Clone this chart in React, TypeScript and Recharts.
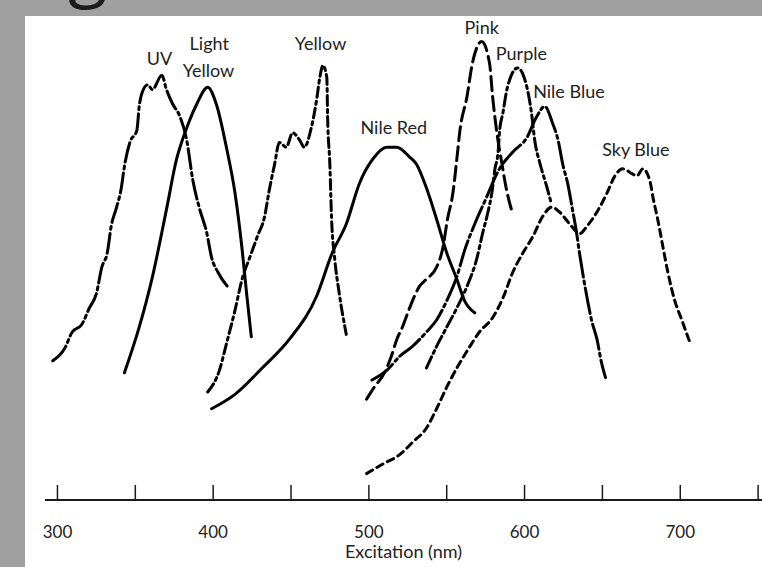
import React from 'react';
import { LineChart, Line, XAxis, YAxis, ReferenceDot } from 'recharts';

// excitation spectra, x in nm, y in relative units (0-100)
const uv = [
  { nm: 297, v: 29 }, { nm: 304.5, v: 31.5 }, { nm: 309.5, v: 35 }, { nm: 315.5, v: 36.5 },
  { nm: 320.5, v: 40 }, { nm: 325, v: 43 }, { nm: 328.5, v: 48.5 }, { nm: 332, v: 51.5 },
  { nm: 334.5, v: 57 }, { nm: 338, v: 61 }, { nm: 341, v: 65 }, { nm: 343, v: 69.5 },
  { nm: 346.5, v: 74.5 }, { nm: 351, v: 77 }, { nm: 352.5, v: 82 }, { nm: 354.5, v: 85 },
  { nm: 358, v: 86.5 }, { nm: 361, v: 85.5 }, { nm: 367, v: 88.5 }, { nm: 370, v: 85.5 },
  { nm: 374, v: 82.5 }, { nm: 378.5, v: 80 }, { nm: 383, v: 75 }, { nm: 387, v: 66.5 },
  { nm: 391, v: 61 }, { nm: 396, v: 55.5 }, { nm: 399, v: 50.5 }, { nm: 403, v: 47.5 },
  { nm: 410.5, v: 44 },
];

const lightYellow = [
  { nm: 343, v: 26.5 }, { nm: 352.5, v: 36 }, { nm: 361, v: 46.5 }, { nm: 370, v: 60.5 },
  { nm: 376.5, v: 71 }, { nm: 383, v: 77.5 }, { nm: 389.5, v: 82.5 }, { nm: 396.5, v: 86 },
  { nm: 402, v: 82.5 }, { nm: 408.5, v: 73.5 }, { nm: 414, v: 64 }, { nm: 418.5, v: 52.5 },
  { nm: 421.5, v: 43 }, { nm: 424.5, v: 34 },
];

const yellow = [
  { nm: 396.5, v: 22.5 }, { nm: 404, v: 27 }, { nm: 408.5, v: 32.5 }, { nm: 414, v: 39.5 },
  { nm: 419, v: 46.5 }, { nm: 423.5, v: 50.5 }, { nm: 428.5, v: 55 }, { nm: 433, v: 59 },
  { nm: 436, v: 64.5 }, { nm: 439.5, v: 70 }, { nm: 442.5, v: 74.5 }, { nm: 447, v: 73.5 },
  { nm: 451, v: 76.5 }, { nm: 455.5, v: 75 }, { nm: 458.5, v: 73.5 }, { nm: 463, v: 77.5 },
  { nm: 466.5, v: 83.5 }, { nm: 468.5, v: 88 }, { nm: 470.5, v: 90.5 }, { nm: 473, v: 88 },
  { nm: 473.5, v: 80 }, { nm: 475, v: 69.5 }, { nm: 476, v: 59 }, { nm: 478, v: 50.5 },
  { nm: 481, v: 43 }, { nm: 485.5, v: 34.5 },
];

const nileRed = [
  { nm: 399, v: 19 }, { nm: 414, v: 22 }, { nm: 431.5, v: 27.5 }, { nm: 449, v: 33.5 },
  { nm: 466.5, v: 42.5 }, { nm: 476.5, v: 51.5 }, { nm: 485.5, v: 57.5 }, { nm: 494, v: 66 },
  { nm: 502.5, v: 71 }, { nm: 511.5, v: 73.5 }, { nm: 518, v: 73.5 }, { nm: 526, v: 71.5 },
  { nm: 530.5, v: 70 }, { nm: 537, v: 65 }, { nm: 543.5, v: 58.5 }, { nm: 550, v: 51.5 },
  { nm: 556.5, v: 46 }, { nm: 561.5, v: 41.5 }, { nm: 568, v: 39 },
];

const pink = [
  { nm: 498.5, v: 21 }, { nm: 503.5, v: 23.5 }, { nm: 510, v: 26.5 }, { nm: 514.5, v: 30 },
  { nm: 518, v: 33.5 }, { nm: 521.5, v: 36 }, { nm: 525, v: 39 }, { nm: 528, v: 41.5 },
  { nm: 532.5, v: 44.5 }, { nm: 537, v: 46 }, { nm: 543.5, v: 48.5 }, { nm: 547.5, v: 52.5 },
  { nm: 550.5, v: 58.5 }, { nm: 554, v: 64 }, { nm: 556.5, v: 71 }, { nm: 558.5, v: 77 },
  { nm: 563, v: 84 }, { nm: 566.5, v: 91 }, { nm: 572.5, v: 95.5 }, { nm: 577.5, v: 91 },
  { nm: 579.5, v: 84 }, { nm: 582, v: 77 }, { nm: 585.5, v: 70 }, { nm: 588.5, v: 64.5 },
  { nm: 592.5, v: 59.5 },
];

const purple = [
  { nm: 537, v: 27.5 }, { nm: 543.5, v: 32 }, { nm: 550, v: 36 }, { nm: 556.5, v: 40 },
  { nm: 563, v: 44.5 }, { nm: 569.5, v: 50.5 }, { nm: 573, v: 55.5 }, { nm: 576.5, v: 60 },
  { nm: 579, v: 64 }, { nm: 581, v: 69 }, { nm: 583, v: 72.5 }, { nm: 584, v: 77 },
  { nm: 586, v: 80.5 }, { nm: 589, v: 86 }, { nm: 595.5, v: 90 }, { nm: 601.5, v: 86 },
  { nm: 604.5, v: 80.5 }, { nm: 606.5, v: 75 }, { nm: 610, v: 70 }, { nm: 614.5, v: 65 },
  { nm: 617, v: 62 },
];

const nileBlue = [
  { nm: 502, v: 25 }, { nm: 511.5, v: 27 }, { nm: 520, v: 30 }, { nm: 528, v: 32 },
  { nm: 537, v: 35 }, { nm: 543.5, v: 37.5 }, { nm: 550, v: 41.5 }, { nm: 556.5, v: 46.5 },
  { nm: 561.5, v: 52 }, { nm: 568, v: 57.5 }, { nm: 575.5, v: 63 }, { nm: 583, v: 68.5 },
  { nm: 592.5, v: 72.5 }, { nm: 601.5, v: 75.5 }, { nm: 608, v: 80 }, { nm: 613, v: 82 },
  { nm: 618, v: 78.5 }, { nm: 621.5, v: 75 }, { nm: 624.5, v: 70 }, { nm: 628, v: 65.5 },
  { nm: 630.5, v: 61 }, { nm: 633, v: 56.5 }, { nm: 635.5, v: 51 }, { nm: 638, v: 46 },
  { nm: 640.5, v: 41.5 }, { nm: 643, v: 37.5 }, { nm: 646.5, v: 33.5 }, { nm: 649.5, v: 28.5 },
  { nm: 652, v: 25.5 },
];

const skyBlue = [
  { nm: 498.5, v: 5.5 }, { nm: 509, v: 7.5 }, { nm: 520, v: 9.5 }, { nm: 528, v: 12 },
  { nm: 537, v: 15 }, { nm: 543.5, v: 19 }, { nm: 550, v: 23.5 }, { nm: 556.5, v: 27.5 },
  { nm: 563, v: 31 }, { nm: 571, v: 35 }, { nm: 579.5, v: 38 }, { nm: 586, v: 42 },
  { nm: 592.5, v: 47.5 }, { nm: 599, v: 51.5 }, { nm: 605.5, v: 55 }, { nm: 611.5, v: 59 },
  { nm: 617.5, v: 61 }, { nm: 622.5, v: 60 }, { nm: 629, v: 57.5 }, { nm: 635.5, v: 55.5 },
  { nm: 640, v: 57 }, { nm: 646.5, v: 60 }, { nm: 653, v: 64 }, { nm: 658, v: 67.5 },
  { nm: 663, v: 69 }, { nm: 669, v: 68 }, { nm: 672, v: 67.5 }, { nm: 676, v: 69 },
  { nm: 680.5, v: 66.5 }, { nm: 682.5, v: 63 }, { nm: 685.5, v: 58.5 }, { nm: 689, v: 52.5 },
  { nm: 692, v: 47.5 }, { nm: 696.5, v: 41.5 }, { nm: 701, v: 37.5 }, { nm: 706, v: 33 },
];

const xTicks = [300, 350, 400, 450, 500, 550, 600, 650, 700, 750];
const labelledTicks = [300, 400, 500, 600, 700];

const curves = [
  { key: 'uv', data: uv, dash: '20 4 3 4' },
  { key: 'lightYellow', data: lightYellow, dash: undefined },
  { key: 'yellow', data: yellow, dash: '10 4 3 4' },
  { key: 'nileRed', data: nileRed, dash: undefined },
  { key: 'pink', data: pink, dash: '14 6' },
  { key: 'purple', data: purple, dash: '12 4 3 4' },
  { key: 'nileBlue', data: nileBlue, dash: '26 4 3 4' },
  { key: 'skyBlue', data: skyBlue, dash: '7 5' },
];

const curveLabels = [
  { text: 'UV', nm: 365.5, v: 92 },
  { text: 'Light', nm: 397.5, v: 95 },
  { text: 'Yellow', nm: 397, v: 89.5 },
  { text: 'Yellow', nm: 469, v: 95 },
  { text: 'Nile Red', nm: 516, v: 77.5 },
  { text: 'Pink', nm: 572.5, v: 98.5 },
  { text: 'Purple', nm: 598, v: 93 },
  { text: 'Nile Blue', nm: 628.5, v: 85 },
  { text: 'Sky Blue', nm: 671.5, v: 73 },
];

const FONT = 'Lato, "Open Sans", sans-serif';

const AxisTick = (props: any) => {
  const { x, y, payload } = props;
  return (
    <g>
      <line x1={x} x2={x} y1={y - 15} y2={y} stroke="#1a1a1a" strokeWidth={1.5} />
      {labelledTicks.includes(payload.value) && (
        <text x={x} y={y + 38} textAnchor="middle" fontSize={17} fontFamily={FONT} fill="#222">
          {payload.value}
        </text>
      )}
    </g>
  );
};

export default function App() {
  return (
    <div style={{ position: 'absolute', left: 0, top: 0, width: 762, height: 567, background: '#a0a0a0', overflow: 'hidden' }}>
      <svg width={762} height={16} style={{ position: 'absolute', left: 0, top: 0 }}>
        <text x={68} y={-7} fontSize={72} fontFamily='"Open Sans", sans-serif' fill="#1c1c1c">g</text>
      </svg>
      <div style={{ position: 'absolute', left: 25, top: 16, right: 0, bottom: 0, background: '#ffffff' }} />
      <div style={{ position: 'absolute', left: 0, top: 0 }}>
        <LineChart width={762} height={567} margin={{ top: 20, right: 0, bottom: 0, left: 45 }}>
          <XAxis
            type="number"
            dataKey="nm"
            domain={[292, 752.5]}
            allowDataOverflow
            ticks={xTicks}
            interval={0}
            height={67}
            tickSize={0}
            tickMargin={0}
            tickLine={false}
            tick={<AxisTick />}
            axisLine={{ stroke: '#1a1a1a', strokeWidth: 2 }}
            label={{ value: 'Excitation (nm)', position: 'insideBottom', offset: 9, fontSize: 18, fontFamily: FONT, fill: '#222' }}
          />
          <YAxis type="number" dataKey="v" domain={[0, 100]} hide />
          {curves.map(c => (
            <Line
              key={c.key}
              data={c.data}
              dataKey="v"
              type="monotone"
              stroke="#000"
              strokeWidth={3}
              strokeDasharray={c.dash}
              strokeLinecap="round"
              dot={false}
              activeDot={false}
              isAnimationActive={false}
            />
          ))}
          {curveLabels.map((l, i) => (
            <ReferenceDot
              key={i}
              x={l.nm}
              y={l.v}
              r={0}
              stroke="none"
              fill="none"
              label={{ value: l.text, position: 'center', fontSize: 18, fontFamily: FONT, fill: '#222' }}
            />
          ))}
        </LineChart>
      </div>
    </div>
  );
}
